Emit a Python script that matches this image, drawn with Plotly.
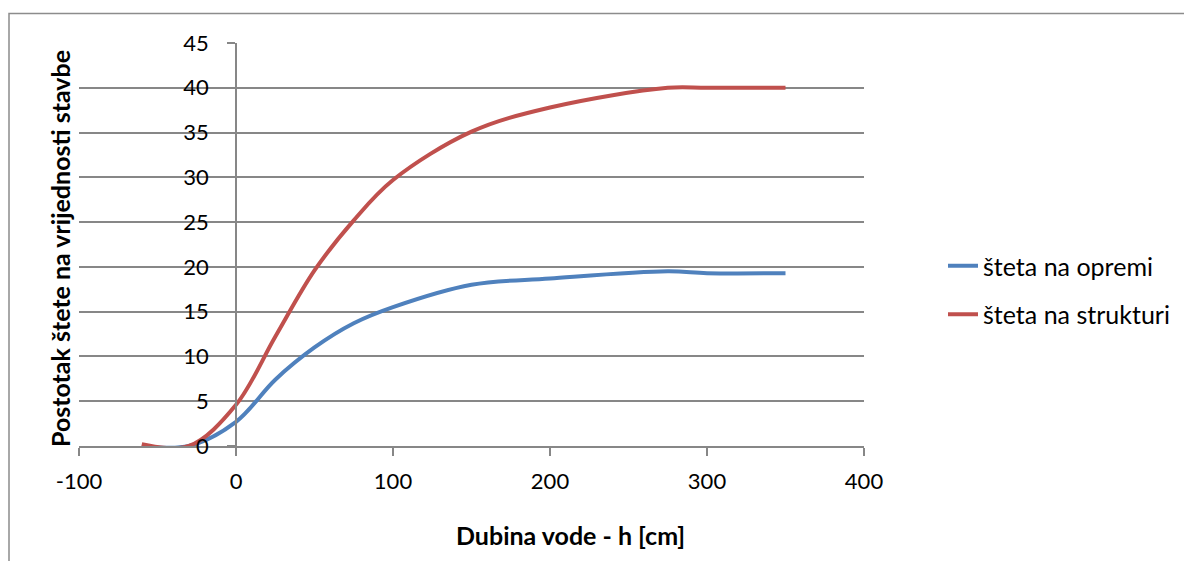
import plotly.graph_objects as go

# Data
depth = [-60, -30, 0, 25, 50, 75, 100, 150, 200, 275, 300, 350]
steta_oprema = [0.0, 0.0, 2.7, 7.4, 11.0, 13.7, 15.5, 18.0, 18.7, 19.5, 19.3, 19.3]
steta_struktura = [0.2, 0.0, 4.6, 12.2, 19.6, 25.2, 29.7, 35.1, 37.8, 40.0, 40.0, 40.0]
series_names = ["šteta na opremi", "šteta na strukturi"]
series_colors = ["#4F81BD", "#C0504D"]
x_ticks = [-100, 0, 100, 200, 300, 400]
y_ticks = [0, 5, 10, 15, 20, 25, 30, 35, 40, 45]
x_title = "Dubina vode - h [cm]"
y_title = "Postotak štete na vrijednosti stavbe"

W, H = 1184, 561
L, R, T, B = 79, 320, 43, 115
pw, ph = W - L - R, H - T - B

def px_x(p):
    return (p - L) / pw

def px_y(p):
    return (H - B - p) / ph

FONT = "Lato"
GRAY = "#878787"

fig = go.Figure()
for name, vals, col in zip(series_names, [steta_oprema, steta_struktura], series_colors):
    fig.add_trace(go.Scatter(
        x=depth, y=vals, name=name, mode="lines",
        line=dict(color=col, width=4, shape="spline", smoothing=1.0),
        legendgroup=name,
    ))

fig.update_layout(
    width=W, height=H,
    margin=dict(l=L, r=R, t=T, b=B, autoexpand=False),
    paper_bgcolor="white", plot_bgcolor="white",
    font=dict(family=FONT, size=22, color="#000000"),
    showlegend=True,
    legend=dict(
        x=px_x(943), y=px_y(243), xanchor="left", yanchor="top",
        font=dict(family=FONT, size=25, color="#000000"),
        tracegroupgap=13, bgcolor="rgba(0,0,0,0)",
    ),
    xaxis=dict(
        range=[-100, 400], tickvals=x_ticks, ticktext=[str(v) for v in x_ticks],
        showgrid=False, zeroline=False,
        showline=True, linecolor=GRAY, linewidth=1.5,
        ticks="outside", ticklen=8, tickcolor=GRAY, tickwidth=1.5,
        ticklabelstandoff=7,
        tickfont=dict(family=FONT, size=22, color="#000000"),
    ),
    yaxis=dict(
        range=[0, 45], tickvals=y_ticks, ticktext=[str(v) for v in y_ticks],
        showgrid=True, gridcolor=GRAY, gridwidth=1.5, zeroline=False,
        showline=True, linecolor=GRAY, linewidth=1.5,
        anchor="free", position=0.2,
        ticks="outside", ticklen=8, tickcolor=GRAY, tickwidth=1.5,
        ticklabelstandoff=14,
        tickfont=dict(family=FONT, size=22, color="#000000"),
    ),
    annotations=[
        dict(text="<b>" + x_title + "</b>", xref="paper", yref="paper",
             x=px_x(570), y=px_y(535), xanchor="center", yanchor="middle",
             showarrow=False, font=dict(family=FONT, size=25, color="#000000")),
        dict(text="<b>" + y_title + "</b>", xref="paper", yref="paper",
             x=px_x(60), y=px_y(249), xanchor="center", yanchor="middle",
             textangle=-90, showarrow=False,
             font=dict(family=FONT, size=25, color="#000000")),
    ],
    shapes=[
        dict(type="rect", xref="paper", yref="paper",
             x0=px_x(9), x1=px_x(1200), y0=px_y(13.5), y1=px_y(580),
             line=dict(color="#8C8C8C", width=1.5), fillcolor="rgba(0,0,0,0)",
             layer="below"),
    ],
)

fig.write_html("out.html")
